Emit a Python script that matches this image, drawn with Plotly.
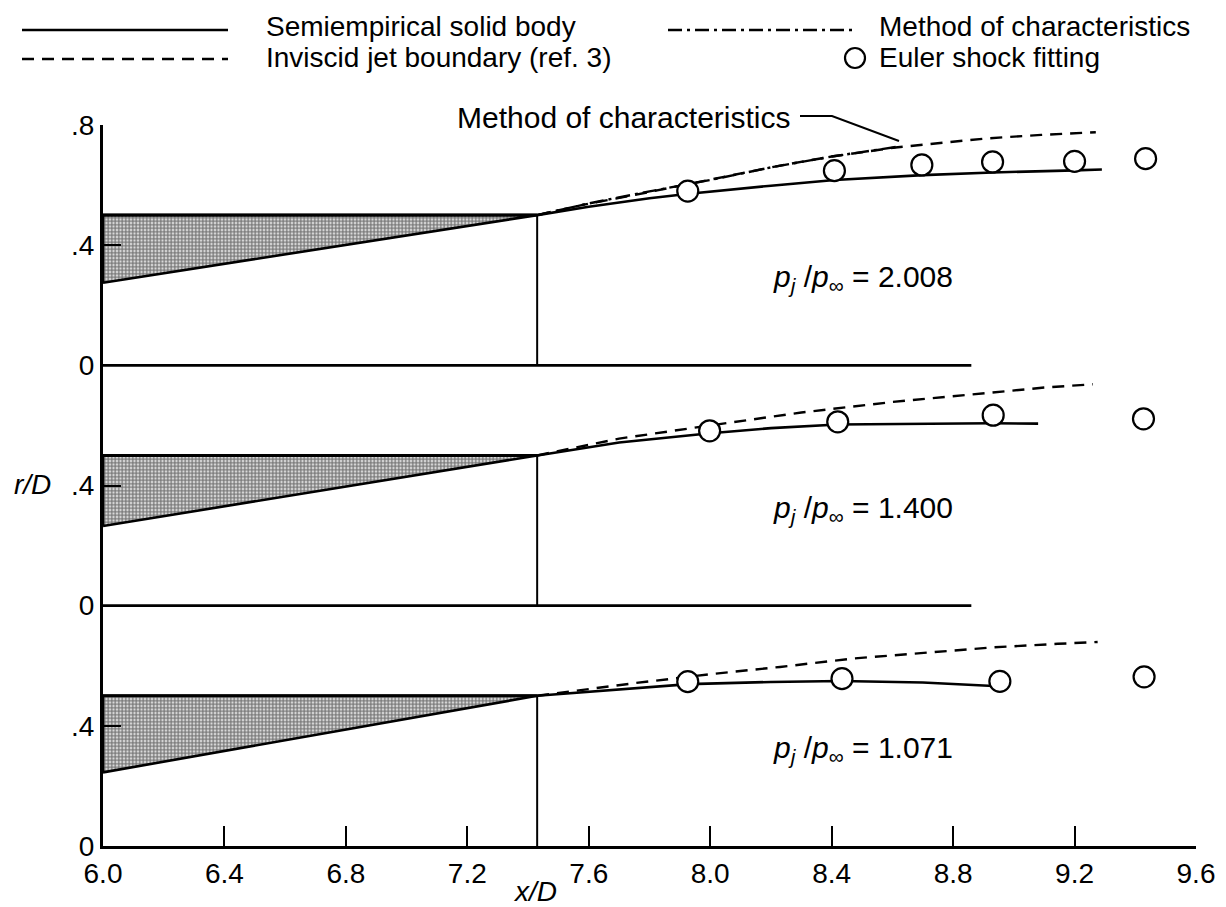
import numpy as np
import plotly.graph_objects as go

# ---- data (r/D measured from each case's own centreline) ----
x_ticks = [6.0, 6.4, 6.8, 7.2, 7.6, 8.0, 8.4, 8.8, 9.2, 9.6]
x_ticktext = ["6.0", "6.4", "6.8", "7.2", "7.6", "8.0", "8.4", "8.8", "9.2", "9.6"]
y_ticks = [0.0, 0.4, 0.8, 1.2, 1.6, 2.0, 2.4]
y_ticktext = ["0", ".4", "0", ".4", "0", ".4", ".8"]

cases = ["2.008", "1.400", "1.071"]
case_base = [1.6, 0.8, 0.0]          # vertical stacking of the three cases
label_r = [0.29, 0.32, 0.32]         # height of each pressure-ratio label

nozzle_x = [6.0, 7.43]
nozzle_outer_r = [0.5, 0.5]
nozzle_inner_r0 = [0.275, 0.265, 0.245]   # inner wall radius at x/D = 6.0
exit_x = 7.43
exit_r = 0.5
centerline_x = [6.0, 8.86]

solid_x = {
    "2.008": [7.43, 7.6, 7.8, 7.93, 8.2, 8.41, 8.7, 8.93, 9.2, 9.29],
    "1.400": [7.43, 7.7, 8.0, 8.2, 8.42, 8.7, 8.93, 9.08],
    "1.071": [7.43, 7.7, 7.93, 8.2, 8.43, 8.7, 8.95],
}
solid_r = {
    "2.008": [0.5, 0.528, 0.556, 0.571, 0.598, 0.617, 0.633, 0.642, 0.649, 0.652],
    "1.400": [0.5, 0.543, 0.574, 0.591, 0.603, 0.606, 0.607, 0.606],
    "1.071": [0.5, 0.522, 0.539, 0.546, 0.549, 0.544, 0.532],
}

inviscid_x = {
    "2.008": [7.43, 7.58, 7.745, 7.92, 8.075, 8.23, 8.4, 8.61, 8.906, 9.09, 9.27],
    "1.400": [7.43, 7.7, 8.0, 8.3, 8.6, 8.9, 9.1, 9.26],
    "1.071": [7.43, 7.75, 8.01, 8.23, 8.47, 8.69, 8.93, 9.145, 9.276],
}
inviscid_r = {
    "2.008": [0.5, 0.534, 0.566, 0.601, 0.634, 0.665, 0.695, 0.725, 0.755, 0.767, 0.776],
    "1.400": [0.5, 0.556, 0.6, 0.643, 0.678, 0.708, 0.726, 0.737],
    "1.071": [0.5, 0.542, 0.573, 0.596, 0.624, 0.642, 0.661, 0.673, 0.679],
}

moc_x = [7.43, 7.6, 7.8, 8.0, 8.2, 8.4, 8.62]
moc_r = [0.5, 0.539, 0.579, 0.617, 0.659, 0.695, 0.728]

euler_x = {
    "2.008": [7.926, 8.409, 8.697, 8.93, 9.20, 9.434],
    "1.400": [7.998, 8.42, 8.932, 9.427],
    "1.071": [7.926, 8.434, 8.954, 9.429],
}
euler_r = {
    "2.008": [0.58, 0.648, 0.667, 0.677, 0.679, 0.688],
    "1.400": [0.582, 0.612, 0.634, 0.622],
    "1.071": [0.547, 0.557, 0.548, 0.563],
}

# ---- figure ----
W, H = 1226, 907
ML, MR, MT, MB = 103, 30, 125, 61
FONT = "Liberation Sans, Arial, Helvetica, sans-serif"
LW = 2.6
BLACK = "black"

fig = go.Figure()

for case, base, r0, lr in zip(cases, case_base, nozzle_inner_r0, label_r):
    # nozzle wall cross-section (stippled)
    wall_x = [nozzle_x[0], nozzle_x[1], nozzle_x[0], nozzle_x[0]]
    wall_r = np.array([r0, exit_r, nozzle_outer_r[0], r0]) + base
    fig.add_trace(go.Scatter(
        x=wall_x, y=wall_r, mode="lines", fill="toself",
        fillcolor="white",
        fillpattern=dict(shape=".", fgcolor="#000000", bgcolor="white",
                         size=3.5, solidity=0.75),
        line=dict(color=BLACK, width=LW), hoverinfo="skip", showlegend=False))
    fig.add_trace(go.Scatter(
        x=nozzle_x, y=np.array(nozzle_outer_r) + base, mode="lines",
        line=dict(color=BLACK, width=3), showlegend=False))
    # exit plane
    fig.add_trace(go.Scatter(
        x=[exit_x, exit_x], y=[base, base + exit_r], mode="lines",
        line=dict(color=BLACK, width=2), showlegend=False))
    # centreline for the upper two cases
    if base > 0:
        fig.add_trace(go.Scatter(
            x=centerline_x, y=[base, base], mode="lines",
            line=dict(color=BLACK, width=LW), showlegend=False))
    # inviscid jet boundary
    fig.add_trace(go.Scatter(
        x=inviscid_x[case], y=np.array(inviscid_r[case]) + base, mode="lines",
        line=dict(color=BLACK, width=2.4, dash="12px,8px"), showlegend=False))
    # method of characteristics (highest pressure ratio only)
    if case == "2.008":
        fig.add_trace(go.Scatter(
            x=moc_x, y=np.array(moc_r) + base, mode="lines",
            line=dict(color=BLACK, width=2.4, dash="14px,5px,3px,5px"),
            showlegend=False))
    # semiempirical solid body
    fig.add_trace(go.Scatter(
        x=solid_x[case], y=np.array(solid_r[case]) + base, mode="lines",
        line=dict(color=BLACK, width=LW), showlegend=False))
    # Euler shock fitting
    fig.add_trace(go.Scatter(
        x=euler_x[case], y=np.array(euler_r[case]) + base, mode="markers",
        marker=dict(symbol="circle", size=21, color="white",
                    line=dict(color=BLACK, width=2.2)),
        showlegend=False))
    # pressure-ratio label
    fig.add_annotation(
        x=8.806, y=base + lr, xref="x", yref="y", xanchor="right",
        yanchor="middle", showarrow=False,
        text=f"<i>p</i><sub><i>j</i></sub> /<i>p</i><sub>\u221e</sub> = {case}",
        font=dict(family=FONT, size=30, color=BLACK))


def px_x(p):
    return (p - ML) / (W - ML - MR)


def px_y(p):
    return (H - MB - p) / (H - MT - MB)


shapes = []
# legend samples
shapes.append(dict(type="line", xref="paper", yref="paper",
                   x0=px_x(22), x1=px_x(228), y0=px_y(30), y1=px_y(30),
                   line=dict(color=BLACK, width=LW)))
shapes.append(dict(type="line", xref="paper", yref="paper",
                   x0=px_x(22), x1=px_x(228), y0=px_y(59), y1=px_y(59),
                   line=dict(color=BLACK, width=2.4, dash="12px,8px")))
shapes.append(dict(type="line", xref="paper", yref="paper",
                   x0=px_x(668), x1=px_x(853), y0=px_y(30), y1=px_y(30),
                   line=dict(color=BLACK, width=2.4, dash="14px,5px,3px,5px")))
shapes.append(dict(type="circle", xref="paper", yref="paper",
                   xsizemode="pixel", ysizemode="pixel",
                   xanchor=px_x(855), yanchor=px_y(58),
                   x0=-10, x1=10, y0=-10, y1=10,
                   line=dict(color=BLACK, width=2.2), fillcolor="white"))
# leader from the "Method of characteristics" label to its curve
shapes.append(dict(type="path", xref="paper", yref="paper",
                   path=f"M {px_x(800)} {px_y(116)} L {px_x(832)} {px_y(116)} "
                        f"L {px_x(899)} {px_y(141)}",
                   line=dict(color=BLACK, width=2)))

legend_items = [
    ("Semiempirical solid body", 264, 26),
    ("Inviscid jet boundary (ref. 3)", 264, 57),
    ("Method of characteristics", 877, 26),
    ("Euler shock fitting", 877, 57),
]
for txt, px, py in legend_items:
    fig.add_annotation(x=px_x(px), y=px_y(py), xref="paper", yref="paper",
                       xanchor="left", yanchor="middle", showarrow=False,
                       text=txt, font=dict(family=FONT, size=28, color=BLACK))

fig.add_annotation(x=px_x(455), y=px_y(117), xref="paper", yref="paper",
                   xanchor="left", yanchor="middle", showarrow=False,
                   text="Method of characteristics",
                   font=dict(family=FONT, size=30, color=BLACK))
fig.add_annotation(x=px_x(535), y=px_y(891), xref="paper", yref="paper",
                   xanchor="center", yanchor="middle", showarrow=False,
                   text="<i>x/D</i>", font=dict(family=FONT, size=28, color=BLACK))
fig.add_annotation(x=px_x(32), y=px_y(484), xref="paper", yref="paper",
                   xanchor="center", yanchor="middle", showarrow=False,
                   text="<i>r/D</i>", font=dict(family=FONT, size=28, color=BLACK))

fig.update_layout(
    width=W, height=H,
    margin=dict(l=ML, r=MR, t=MT, b=MB, autoexpand=False),
    paper_bgcolor="white", plot_bgcolor="white",
    showlegend=False, shapes=shapes,
    font=dict(family=FONT, size=28, color=BLACK),
)
fig.update_xaxes(
    range=[6.0, 9.6], tickmode="array", tickvals=x_ticks, ticktext=x_ticktext,
    ticks="inside", ticklen=20, tickwidth=2, tickcolor=BLACK,
    showline=True, linecolor=BLACK, linewidth=3, showgrid=False, zeroline=False,
    tickfont=dict(family=FONT, size=28, color=BLACK), automargin=False)
fig.update_yaxes(
    range=[0, 2.4], tickmode="array", tickvals=y_ticks, ticktext=y_ticktext,
    ticks="inside", ticklen=18, tickwidth=2, tickcolor=BLACK,
    showline=True, linecolor=BLACK, linewidth=3, showgrid=False, zeroline=False,
    tickfont=dict(family=FONT, size=28, color=BLACK), automargin=False)

fig.write_html("out.html")
